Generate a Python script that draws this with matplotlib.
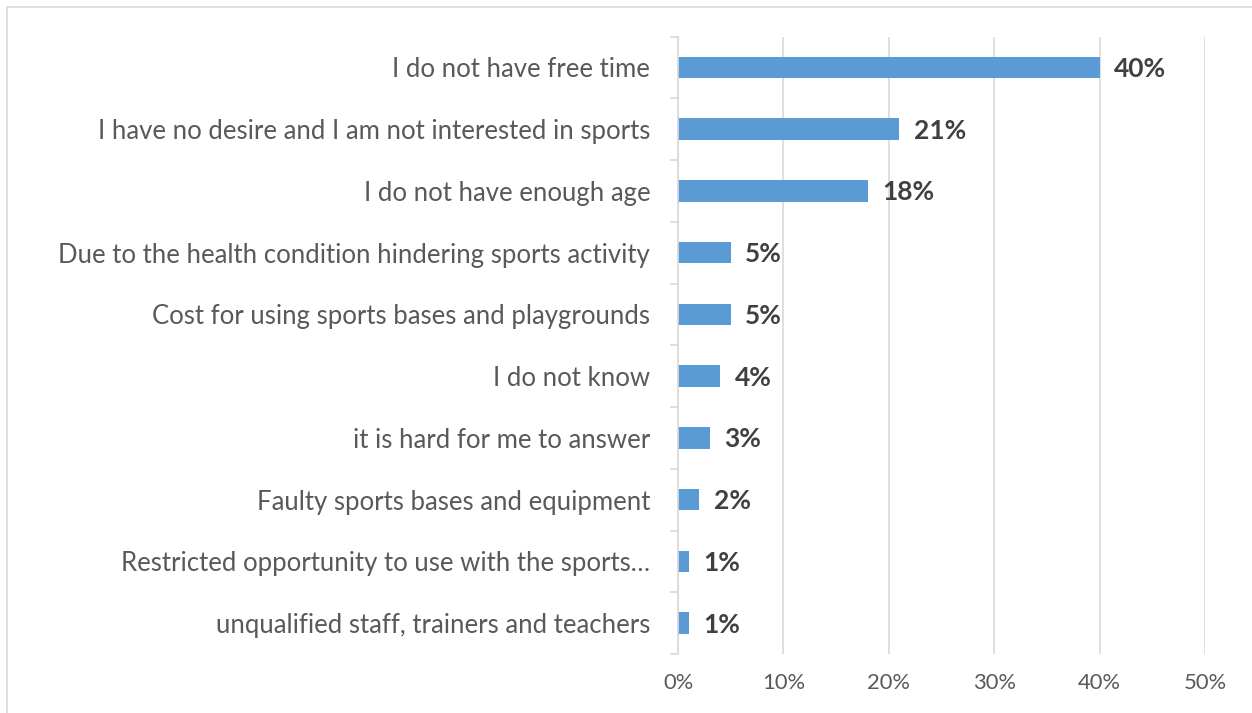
import matplotlib.pyplot as plt
from matplotlib.patches import Rectangle
import numpy as np

# data (top to bottom as shown)
reasons = [
    "I do not have free time",
    "I have no desire and I am not interested in sports",
    "I do not have enough age",
    "Due to the health condition hindering sports activity",
    "Cost for using sports bases and playgrounds",
    "I do not know",
    "it is hard for me to answer",
    "Faulty sports bases and equipment",
    "Restricted opportunity to use with the sports\u2026",
    "unqualified staff, trainers and teachers",
]
shares = [40, 21, 18, 5, 5, 4, 3, 2, 1, 1]
x_ticks = [0, 10, 20, 30, 40, 50]

plt.rcParams['font.family'] = ['Lato', 'DejaVu Sans']

fig = plt.figure(figsize=(12.52, 7.13), dpi=100)
ax = fig.add_axes([678 / 1252, 1 - 654 / 713, (1205 - 678) / 1252, (654 - 36.5) / 713])

# outer chart border
fig.patches.append(Rectangle((7 / 1252, -0.01), 1.02, 1 - 7 / 713 + 0.01,
                             transform=fig.transFigure, fill=False,
                             edgecolor='#d9d9d9', linewidth=1.2))

n = len(reasons)
ypos = np.arange(n)
ax.barh(ypos, shares, height=0.35, color='#5b9bd5', zorder=3)

for y, v in zip(ypos, shares):
    ax.annotate(f"{v}%", (v, y), xytext=(10.5, -1), textcoords='offset points',
                va='center', ha='left', fontsize=19, fontweight='bold', color='#404040')

ax.set_xlim(0, 50)
ax.set_ylim(n - 0.5, -0.5)
ax.set_xticks(x_ticks)
ax.set_xticklabels([f"{t}%" for t in x_ticks])
ax.set_yticks(ypos)
ax.set_yticklabels(reasons)
ax.set_yticks(np.arange(-0.5, n, 1), minor=True)

ax.tick_params(axis='y', which='major', length=0, pad=20, labelsize=18.5, labelcolor='#595959')
ax.tick_params(axis='y', which='minor', length=6, width=1.2, color='#d9d9d9')
ax.tick_params(axis='x', length=0, pad=14, labelsize=15.8, labelcolor='#595959')

ax.grid(axis='x', color='#d9d9d9', linewidth=1.2, zorder=0)
for s in ['top', 'right', 'bottom']:
    ax.spines[s].set_visible(False)
ax.spines['left'].set_color('#d9d9d9')
ax.spines['left'].set_linewidth(1.2)
ax.spines['left'].set_zorder(4)

fig.savefig('out.png', dpi=100)
